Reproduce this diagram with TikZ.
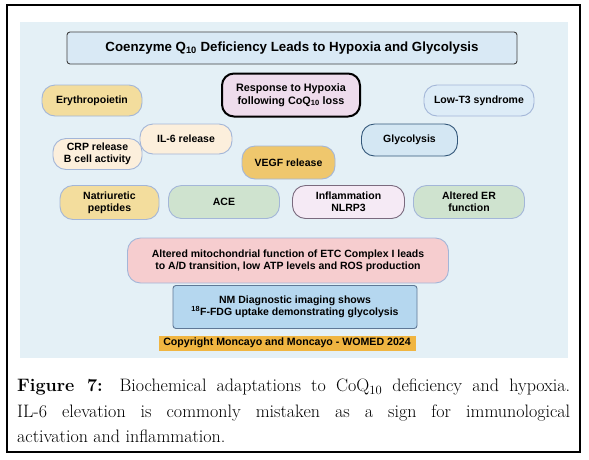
\documentclass[tikz,border=0pt]{standalone}
\usepackage{fontspec}
\setsansfont{Liberation Sans}
\usetikzlibrary{positioning}
\definecolor{panelc}{HTML}{E4F0F6}
\definecolor{titlec}{HTML}{D9E9F5}
\definecolor{bordc}{HTML}{A3B6D8}
\definecolor{yelc}{HTML}{F3DD9D}
\definecolor{peachc}{HTML}{FCEFDC}
\definecolor{orgc}{HTML}{EFC76D}
\definecolor{grnc}{HTML}{CFE3CF}
\definecolor{lavc}{HTML}{F5EAF5}
\definecolor{respc}{HTML}{EEDCEC}
\definecolor{ltbc}{HTML}{DDECF7}
\definecolor{glyc}{HTML}{D4E7F3}
\definecolor{glyb}{HTML}{34587A}
\definecolor{mitoc}{HTML}{F6CDCF}
\definecolor{nmc}{HTML}{B5D7EF}
\definecolor{nmb}{HTML}{5F7896}
\definecolor{copyc}{HTML}{F0B541}
\definecolor{infb}{HTML}{7A6A7E}
\tikzset{
  pill/.style={draw=bordc, line width=0.9pt, rounded corners=13pt, align=center,
    font=\sffamily\bfseries\fontsize{10.5}{12}\selectfont, inner sep=0pt},
}
\begin{document}
\begin{tikzpicture}[x=1pt,y=-1pt]
\useasboundingbox (0,0) rectangle (589,459);
\node[draw=black, line width=1.2pt, minimum width=573pt, minimum height=447pt, inner sep=0pt] (frame) at (293.5,228.5) {};
\node[fill=panelc, minimum width=548pt, minimum height=336pt, inner sep=0pt] (panel) at (294,190) {};
\node[draw=black!75, fill=titlec, line width=0.9pt, rounded corners=3pt, minimum width=450pt, minimum height=32pt, inner sep=0pt,
  font=\sffamily\bfseries\fontsize{13.3}{15}\selectfont] (title) at (292,48) {Coenzyme Q\textsubscript{10} Deficiency Leads to Hypoxia and Glycolysis};
\node[pill, draw=black, line width=2pt, fill=respc, rounded corners=12pt, minimum width=138pt, minimum height=43pt,
  font=\sffamily\bfseries\fontsize{10.8}{12.5}\selectfont] (resp) at (291,95) {Response to Hypoxia\\following CoQ\textsubscript{10} loss};
\node[pill, fill=yelc, minimum width=100pt, minimum height=31pt] (epo) at (92,100.5) {Erythropoietin};
\node[pill, fill=ltbc, minimum width=110pt, minimum height=31pt] (lt3) at (479,100.5) {Low-T3 syndrome};
\node[pill, fill=peachc, minimum width=92pt, minimum height=30pt] (il6) at (186,139) {IL-6 release};
\node[pill, fill=peachc, minimum width=89pt, minimum height=31pt] (crp) at (97.5,154) {CRP release\\B cell activity};
\node[pill, fill=glyc, draw=glyb, minimum width=96pt, minimum height=32pt] (gly) at (409.5,140) {Glycolysis};
\node[pill, fill=orgc, minimum width=93pt, minimum height=33pt] (vegf) at (288.5,162.5) {VEGF release};
\node[pill, fill=yelc, minimum width=99pt, minimum height=34pt] (nat) at (109.5,202.5) {Natriuretic\\peptides};
\node[pill, fill=grnc, minimum width=111pt, minimum height=33pt] (ace) at (224,202) {ACE};
\node[pill, fill=lavc, draw=infb, minimum width=112pt, minimum height=33pt] (inf) at (348.5,202) {Inflammation\\NLRP3};
\node[pill, fill=grnc, minimum width=111pt, minimum height=33pt] (er) at (469,202) {Altered ER\\function};
\node[pill, fill=mitoc, rounded corners=13pt, minimum width=321pt, minimum height=45pt] (mito) at (288,260.5) {Altered mitochondrial function of ETC Complex I leads\\to A/D transition, low ATP levels and ROS production};
\node[pill, fill=nmc, draw=nmb, rounded corners=3pt, minimum width=244pt, minimum height=43pt] (nm) at (295,307) {NM Diagnostic imaging shows\\\textsuperscript{18}F-FDG uptake demonstrating glycolysis};
\node[fill=copyc, minimum width=257pt, minimum height=15pt, inner sep=0pt, font=\sffamily\bfseries\fontsize{10.6}{12}\selectfont] (copy) at (287,343) {Copyright Moncayo and Moncayo - WOMED 2024};
\node[anchor=north west, text width=553pt, align=justify, inner sep=0pt, font=\fontsize{18}{25.5}\selectfont] (cap) at (17,379)
 {\hyphenpenalty=10000 \textbf{Figure 7:} Biochemical adaptations to CoQ\textsubscript{10} deficiency and hypoxia.\linebreak IL-6 elevation is commonly mistaken as a sign for immunological\linebreak activation and inflammation.};
\end{tikzpicture}
\end{document}
